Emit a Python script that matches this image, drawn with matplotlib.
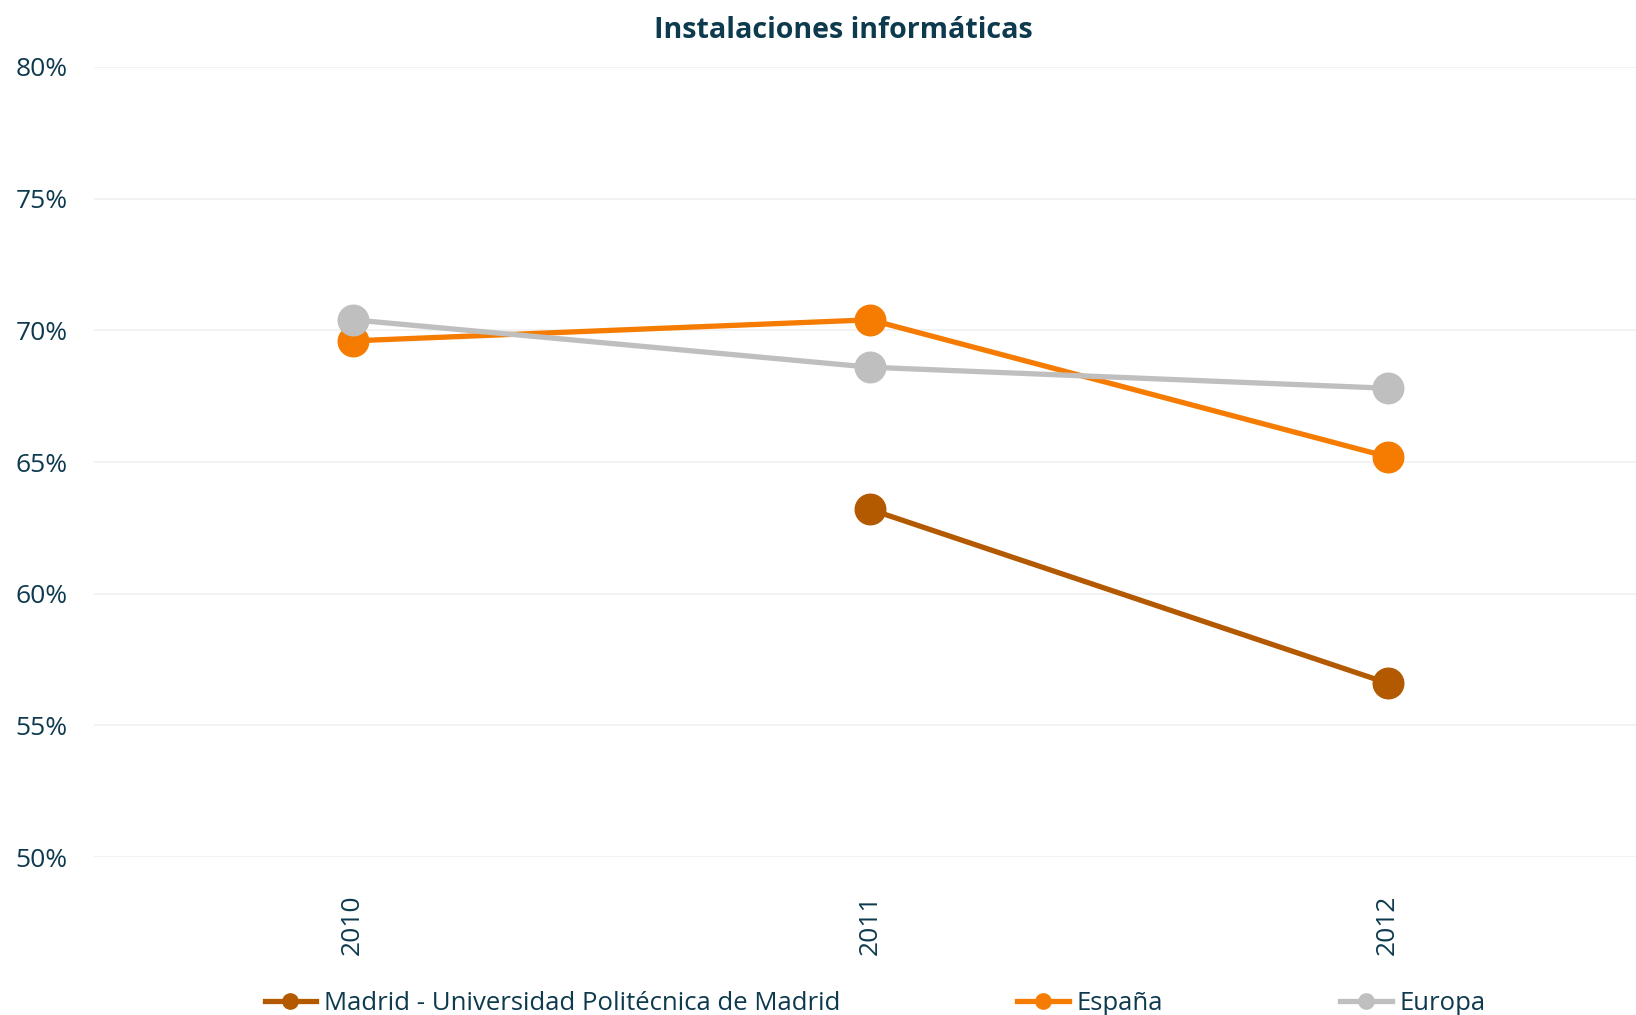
import matplotlib
matplotlib.use("Agg")
import matplotlib.pyplot as plt
import matplotlib.lines as mlines
import numpy as np

plt.rcParams['font.family'] = ['Open Sans', 'DejaVu Sans']

years = ["2010", "2011", "2012"]
madrid = [np.nan, 63.2, 56.6]
espana = [69.6, 70.4, 65.2]
europa = [70.4, 68.6, 67.8]
series_names = ["Madrid - Universidad Politécnica de Madrid", "España", "Europa"]
yticks = [50, 55, 60, 65, 70, 75, 80]
title = "Instalaciones informáticas"

colors = ["#B35A00", "#F57C00", "#BFBFBF"]
text_color = "#0E3A4E"

fig = plt.figure(figsize=(16.36, 10.15), dpi=100)
ax = fig.add_axes([94/1636, 1-857/1015, 1-94/1636, (857-67)/1015])

x = np.arange(len(years))
for vals, name, c in zip([madrid, espana, europa], series_names, colors):
    ax.plot(x, vals, color=c, lw=3.8, marker='o', markersize=22, label=name,
            solid_capstyle='round')

ax.set_ylim(50, 80)
ax.set_xlim(-0.5, 2.48)
ax.set_yticks(yticks)
ax.set_yticklabels([f"{v}%" for v in yticks])
ax.set_xticks(x)
ax.set_xticklabels(years, rotation=90)
ax.tick_params(axis='y', length=0, pad=19, labelsize=19, labelcolor=text_color)
ax.tick_params(axis='x', length=0, pad=27, labelsize=19, labelcolor=text_color)
ax.grid(axis='y', color='#F0F0F0', lw=1.2)
ax.set_axisbelow(True)
for s in ax.spines.values():
    s.set_visible(False)

fig.text(843/1636, 1-30/1015, title, ha='center', va='center', fontsize=20.6,
         fontweight='bold', color=text_color)

labels = series_names
lh = [mlines.Line2D([], [], color=c, lw=3.8, marker='o', markersize=11) for c in colors]
leg = fig.legend(lh, labels, loc='center', bbox_to_anchor=(875/1636, 1-1003/1015), ncol=3,
                 frameon=False, fontsize=18.5, handlelength=2.0, handletextpad=0.3,
                 columnspacing=6.9, labelcolor=text_color)

fig.savefig("out.png", dpi=100, facecolor='white')
